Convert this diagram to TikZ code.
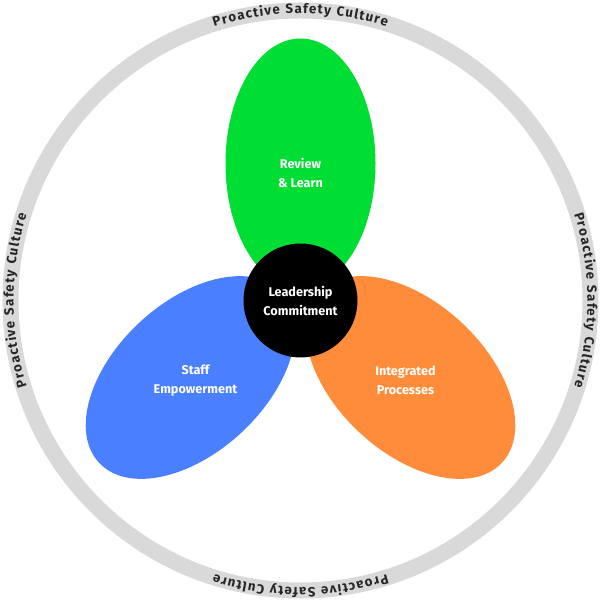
\documentclass[tikz,border=0pt]{standalone}
\usepackage{fontspec}
\setmainfont{Fira Sans}
\usetikzlibrary{decorations.text}
\definecolor{ringgray}{HTML}{D9D9D9}
\definecolor{petalgreen}{HTML}{00DD33}
\definecolor{petalblue}{HTML}{4A80FF}
\definecolor{petalorange}{HTML}{FF8C3A}
\tikzset{
  label/.style={text=white, font=\bfseries\fontsize{3.6}{5.4}\selectfont, align=center}
}
\begin{document}
\begin{tikzpicture}
\useasboundingbox (-3.005,-3.005) rectangle (3.005,3.005);
% outer ring
\fill[ringgray, even odd rule] (0,0) circle (2.98) (0,0) circle (2.82);
\foreach \a in {90,0,-90,180}
  \path[decorate, decoration={text along path, text align={fit to path},
    text={|\bfseries\fontsize{3.8}{5}\selectfont\color{black!85}|Proactive Safety Culture}}]
    (\a+17.5:2.87) arc[start angle=\a+17.5, end angle=\a-17.5, radius=2.87];
% petals
\fill[petalgreen] (0,1.37) ellipse[x radius=0.75, y radius=1.25];
\fill[petalblue, rotate around={-47:(-1.1,-0.77)}] (-1.1,-0.77) ellipse[x radius=0.75, y radius=1.25];
\fill[petalorange, rotate around={47:(1.1,-0.77)}] (1.1,-0.77) ellipse[x radius=0.75, y radius=1.25];
\node[label] (review) at (0,1.28) {Review\\ \& Learn};
\node[label] (staff) at (-1.05,-0.8) {Staff\\ Empowerment};
\node[label] (integrated) at (1.05,-0.8) {Integrated\\ Processes};
% centre
\node[circle, fill=black, minimum size=1.14cm, label, inner sep=0pt] (leader) at (0,0) {Leadership\\ Commitment};
\end{tikzpicture}
\end{document}
